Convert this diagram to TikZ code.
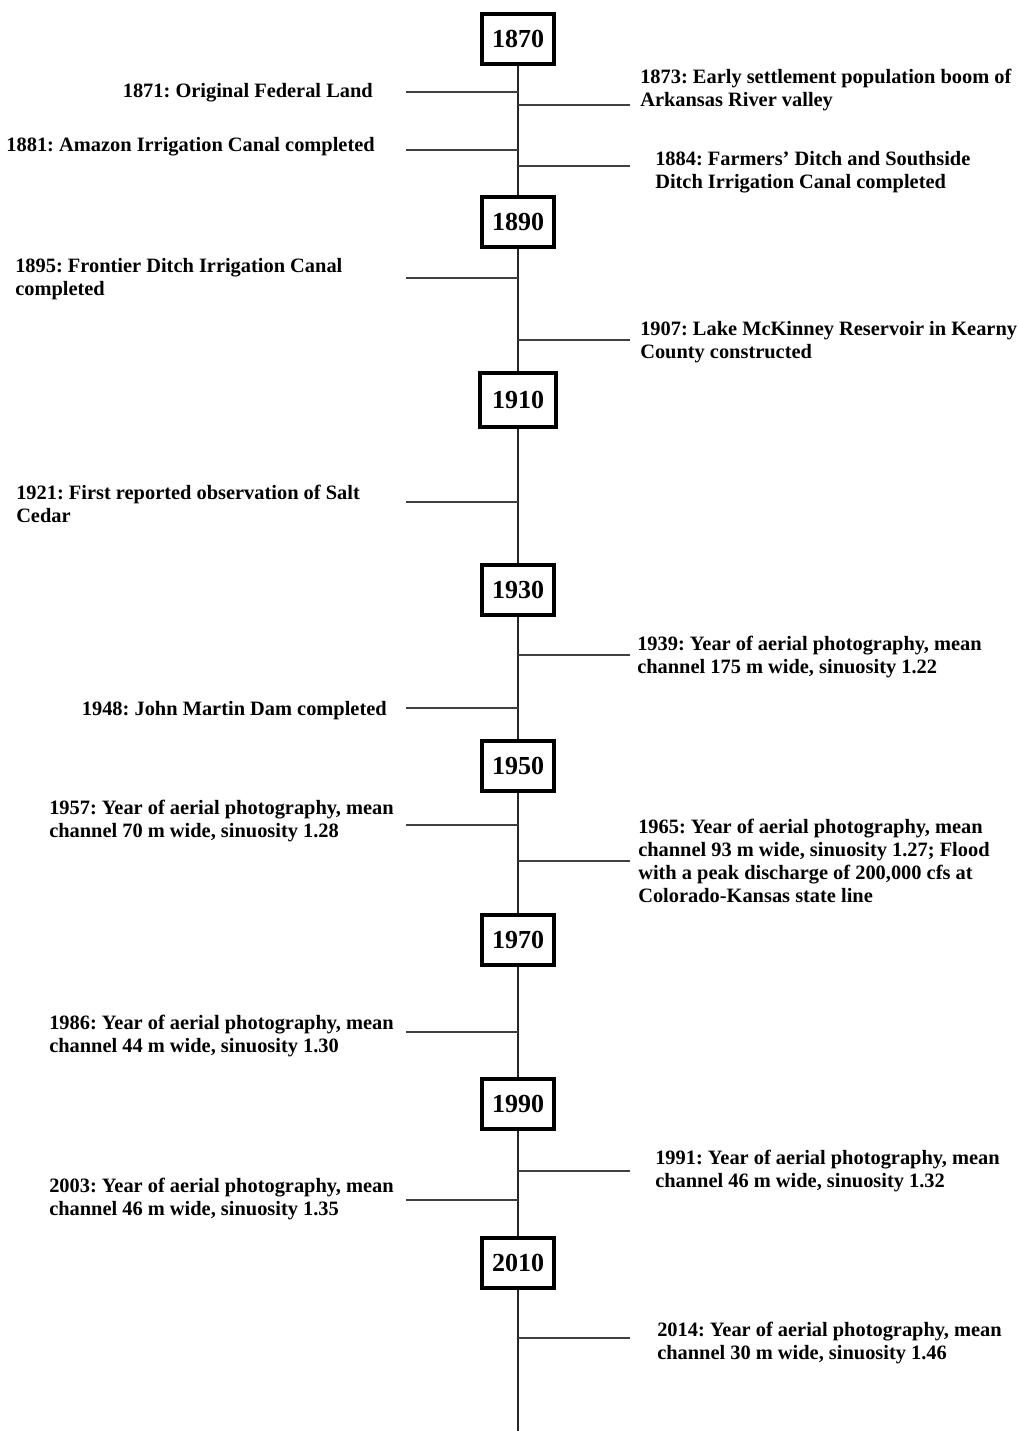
\documentclass[tikz,border=0pt]{standalone}
\usepackage{fontspec}
\setmainfont{Liberation Serif}
\usetikzlibrary{positioning, calc}
\tikzset{
    yearbox/.style={
        draw=black,
        line width=3pt,
        fill=white,
        minimum width=54pt,
        minimum height=38pt,
        inner sep=0pt,
        font=\fontsize{19.5}{22}\selectfont\bfseries
    },
    event/.style={
        inner sep=0pt,
        align=left,
        font=\fontsize{15.3}{17.25}\selectfont\bfseries\frenchspacing
    },
    axisline/.style={
        line width=1.9pt,
        black!85
    },
    tick/.style={
        line width=1pt,
        black!75
    }
}

\begin{document}
\frenchspacing
\begin{tikzpicture}[x=0.75pt, y=-0.75pt]
      \useasboundingbox (0,0) rectangle (1019,1431);

      % year boxes on the axis
      \node[yearbox] (y1870) at (518, 39)   {1870};
      \node[yearbox] (y1890) at (518, 222)  {1890};
      \node[yearbox, minimum width=57pt, minimum height=40pt] (y1910) at (518, 400) {1910};
      \node[yearbox] (y1930) at (518, 590)  {1930};
      \node[yearbox] (y1950) at (518, 766)  {1950};
      \node[yearbox] (y1970) at (518, 940)  {1970};
      \node[yearbox] (y1990) at (518, 1104) {1990};
      \node[yearbox] (y2010) at (518, 1263) {2010};
      \coordinate (axisend) at (518, 1431);

      \draw[axisline] (y1870) -- (y1890) -- (y1910) -- (y1930) -- (y1950)
                      -- (y1970) -- (y1990) -- (y2010) -- (axisend);

      % left events
      \node[event, anchor=east] (e1871) at (373, 92.5)  {1871: Original Federal Land};
      \node[event, anchor=east] (e1881) at (375, 146.5) {1881: Amazon Irrigation Canal completed};
      \node[event, anchor=west] (e1895) at (15, 279.5)  {1895: Frontier Ditch Irrigation Canal\\completed};
      \node[event, anchor=west] (e1921) at (16, 503.5)  {1921: First reported observation of Salt\\Cedar};
      \node[event, anchor=east] (e1948) at (387, 710.5) {1948: John Martin Dam completed};
      \node[event, anchor=west] (e1957) at (49, 821.5)  {1957: Year of aerial photography, mean\\channel 70 m wide, sinuosity 1.28};
      \node[event, anchor=west] (e1986) at (49, 1036.5) {1986: Year of aerial photography, mean\\channel 44 m wide, sinuosity 1.30};
      \node[event, anchor=west] (e2003) at (49, 1199.5) {2003: Year of aerial photography, mean\\channel 46 m wide, sinuosity 1.35};

      % right events
      \node[event, anchor=west] (e1873) at (640, 90.5)   {1873: Early settlement population boom of\\Arkansas River valley};
      \node[event, anchor=west] (e1884) at (655, 172.5)  {1884: Farmers' Ditch and Southside\\Ditch Irrigation Canal completed};
      \node[event, anchor=west] (e1907) at (640, 342.5)  {1907: Lake McKinney Reservoir in Kearny\\County constructed};
      \node[event, anchor=west] (e1939) at (637, 657.5)  {1939: Year of aerial photography, mean\\channel 175 m wide, sinuosity 1.22};
      \node[event, anchor=west] (e1965) at (638, 860.5)  {1965: Year of aerial photography, mean\\channel 93 m wide, sinuosity 1.27; Flood\\with a peak discharge of 200,000 cfs at\\Colorado-Kansas state line};
      \node[event, anchor=west] (e1991) at (655, 1171.5) {1991: Year of aerial photography, mean\\channel 46 m wide, sinuosity 1.32};
      \node[event, anchor=west] (e2014) at (657, 1343.5) {2014: Year of aerial photography, mean\\channel 30 m wide, sinuosity 1.46};

      % tick ends
      \coordinate (t1871) at (406, 92);
      \coordinate (t1881) at (406, 150);
      \coordinate (t1895) at (406, 278);
      \coordinate (t1921) at (406, 502);
      \coordinate (t1948) at (406, 708);
      \coordinate (t1957) at (406, 825);
      \coordinate (t1986) at (406, 1032);
      \coordinate (t2003) at (406, 1200);
      \coordinate (t1873) at (630, 105);
      \coordinate (t1884) at (630, 166);
      \coordinate (t1907) at (630, 340);
      \coordinate (t1939) at (630, 655);
      \coordinate (t1965) at (630, 861);
      \coordinate (t1991) at (630, 1171);
      \coordinate (t2014) at (630, 1338);

      \foreach \yr in {1871,1881,1895,1921,1948,1957,1986,2003,1873,1884,1907,1939,1965,1991,2014}
        \draw[tick] (t\yr) -- (t\yr -| axisend);
\end{tikzpicture}
\end{document}
